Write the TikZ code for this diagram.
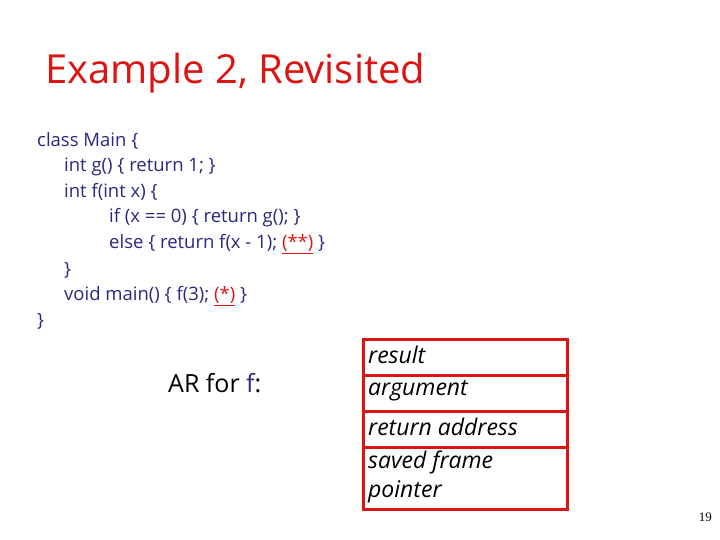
\documentclass[tikz,border=0pt]{standalone}
\usepackage{fontspec}
\setmainfont{Open Sans}
\newfontfamily\serifpg{Liberation Serif}
\definecolor{navy}{RGB}{40,40,130}
\definecolor{tred}{RGB}{220,20,20}
\begin{document}
\begin{tikzpicture}[x=1pt,y=-1pt,
  code/.style={anchor=west,inner sep=0pt,text=navy,font=\fontsize{18.5}{22}\selectfont},
  cell/.style={draw=tred,line width=3pt,fill=white,anchor=north west,minimum width=204pt,inner sep=0pt},
  celltxt/.style={anchor=west,inner sep=0pt,font=\fontsize{23}{29}\selectfont\itshape,align=left}]
\useasboundingbox (0,0) rectangle (720,540);
\node[anchor=west,inner sep=0pt,text=tred,font=\fontsize{40}{44}\selectfont] (title) at (45,73) {Example 2, Revisited};
\newcommand\mk[1]{\textcolor{tred}{\underline{#1}}}
\node[code] (c1) at (37,141) {class Main \{};
\node[code] (c2) at (64,167) {int g() \{ return 1; \}};
\node[code] (c3) at (64,192) {int f(int x) \{};
\node[code] (c4) at (109,218) {if (x == 0) \{ return g(); \}};
\node[code] (c5) at (109,244) {else \{ return f(x - 1); \mk{(**)} \}};
\node[code] (c6) at (64,270) {\}};
\node[code] (c7) at (64,296) {void main() \{ f(3); \mk{(*)} \}};
\node[code] (c8) at (37,321) {\}};
\node[anchor=west,inner sep=0pt,font=\fontsize{25}{28}\selectfont] (ar) at (168,383) {AR for \textcolor{navy}{f}:};
\node[cell,minimum height=36pt] (r1) at (362,338) {};
\node[cell,minimum height=36pt] (r2) at (362,374) {};
\node[cell,minimum height=36pt] (r3) at (362,410) {};
\node[cell,minimum height=62pt] (r4) at (362,446) {};
\node[celltxt] (t1) at (368,355) {result};
\node[celltxt] (t2) at (368,391) {argument};
\node[celltxt] (t3) at (368,427) {return address};
\node[celltxt] (t4) at (368,477) {saved frame\\pointer};
\node[anchor=east,inner sep=0pt,font=\serifpg\fontsize{13}{15}\selectfont] (pg) at (712,517) {19};
\end{tikzpicture}
\end{document}
